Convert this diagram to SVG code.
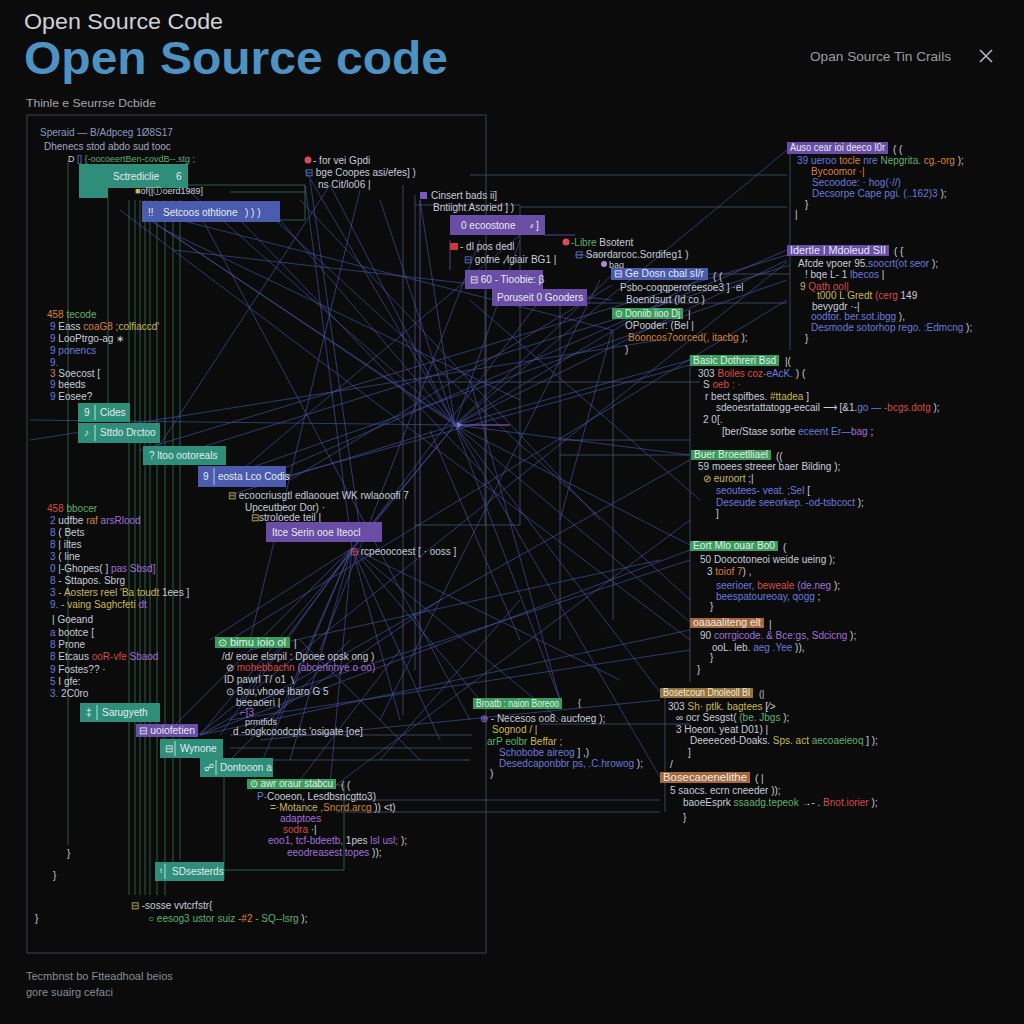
<svg xmlns="http://www.w3.org/2000/svg" width="1024" height="1024" viewBox="0 0 1024 1024">
<defs>
<style>
text{font-family:"Liberation Sans",Arial,sans-serif}
.c{font-size:10px;fill:#a8aab8}
.s{font-size:9px}
.xs{font-size:7.5px}
.g{fill:#a8aab8}.b{fill:#6a7ade}.gr{fill:#5fb070}.o{fill:#d8823a}.r{fill:#d84a4a}.p{fill:#a070d8}.y{fill:#c8b85a}.w{fill:#c8ccd8}
.bt{fill:#e4ecf0;font-size:10px}
.teal{fill:#2f8e7a}.blue{fill:#4b5cae}.purp{fill:#6a4ea6}.grn{fill:#3a9c5a}.org{fill:#a8683a}.olv{fill:#9a7434}
.ln{stroke:#4656a6;stroke-width:0.8;fill:none;opacity:0.8}
.lt{stroke:#3c8a60;stroke-width:0.8;fill:none;opacity:0.8}
.lg{stroke:#3f4a66;stroke-width:0.9;fill:none}
.lp{stroke:#5a4a96;stroke-width:0.9;fill:none}
</style>
<marker id="ah" viewBox="0 0 6 6" refX="1" refY="3" markerWidth="6" markerHeight="6" orient="auto"><path d="M6,0 L0,3 L6,6 z" fill="#8a70d0"/></marker>
</defs>
<rect width="1024" height="1024" fill="#0b0b0c"/>

<!-- header -->
<g id="header">
<text x="24" y="29" font-size="22" fill="#cfd2d6" font-family="Open Sans, Liberation Sans, sans-serif" textLength="199" lengthAdjust="spacingAndGlyphs">Open Source Code</text>
<text x="24" y="74" font-size="46" font-weight="600" fill="#4d92c2" font-family="Open Sans, Liberation Sans, sans-serif" textLength="424" lengthAdjust="spacingAndGlyphs">Open Source code</text>
<text x="810" y="61" font-size="13" fill="#9a9ca2" textLength="141" lengthAdjust="spacingAndGlyphs">Opan Source Tin Crails</text>
<path d="M980 50 L992 62 M992 50 L980 62" stroke="#b8bac0" stroke-width="1.5"/>
<text x="26" y="107" font-size="11" fill="#a4a6ac" textLength="130" lengthAdjust="spacingAndGlyphs">Thinle e Seurrse Dcbide</text>
<text x="26" y="980" font-size="11" fill="#8a8c92">Tecmbnst bo Ftteadhoal beios</text>
<text x="26" y="996" font-size="11" fill="#8a8c92">gore suairg cefaci</text>
</g>

<!-- connectors -->
<g id="connectors">
<rect x="27" y="115" width="459" height="838" fill="none" stroke="#3a4750" stroke-width="1"/>
<path class="lt" d="M68 160 V845 M129 200 V895 M135 200 V895 M140 200 V895 M145 200 V895 M150 200 V895 M157 200 V895 M165 200 V895 M173 200 V870 M180 200 V860 M108 198 V420 M224 760 V880"/>
<path class="lt" d="M188 185 H305 V220 M230 192 H305 M280 220 H305 M336 785 H344 V870 H224"/>
<path class="lg" d="M403 185 V715 M415 195 V670 M415 205 H520 V525 H415 M485 290 V525 M560 300 V640 M613 330 V620"/>
<path class="lg" d="M470 175 H787 M520 207 H787 M587 303 H787 M790 142 V350 M690 355 V682 M665 688 V812 M420 382 H700 M560 440 H690 M560 455 H690"/>
<path class="lg" d="M230 735 H472 M230 748 H472 M223 760 H470 M336 800 H660 M336 812 H660 M540 724 H690 M575 255 H612 M708 274 H790"/>
<path class="lp" d="M420 200 V690 M450 240 V270 M545 235 H575"/>
<path class="ln" d="M455 425 L305 170 M455 425 L330 185 M455 425 L420 200 M455 425 L520 240 M455 425 L612 275 M455 425 L708 274 M455 425 L787 260 M455 425 L787 150 M455 425 L690 360 M455 425 L690 455 M455 425 L690 545 M455 425 L690 622 M455 425 L660 692 M455 425 L660 777 M455 425 L560 700 M455 425 L352 548 M455 425 L230 495 M455 425 L280 220 M455 425 L188 190 M455 425 L143 215 M455 425 L200 735 M455 425 L30 420 M455 425 L380 200"/>
<path class="ln" d="M352 548 L270 735 M352 548 L290 760 M352 548 L220 735 M352 548 L250 790 M352 548 L330 785 M352 548 L400 720 M352 548 L480 700 M352 548 L560 720 M352 548 L620 680 M352 548 L305 185 M352 548 L160 740 M352 548 L210 640 M352 548 L440 740"/>
<path class="ln" d="M120 210 L690 640 M160 215 L612 330 M200 215 L470 720 M270 215 L690 600 M160 460 L790 265 M230 475 L787 280 M280 478 L690 365 M290 480 L612 285 M198 735 L787 262 M200 735 L690 460 M200 735 L690 550 M200 735 L690 630 M336 785 L690 520 M230 640 L787 300 M30 440 L660 340 M240 220 L480 470 M300 200 L600 520 M310 180 L360 530 M360 190 L250 640 M480 240 L320 650 M540 300 L240 700 M600 280 L380 720 M330 185 L150 460 M520 235 L230 480 M470 300 L700 500 M250 650 L660 560 M260 700 L690 560 M230 720 L690 650 M260 740 L660 700 M300 640 L420 760 M350 640 L230 760 M400 650 L300 780 M440 600 L250 730 M520 600 L380 760 M430 430 L520 640 M470 380 L560 700 M560 520 L612 330"/>
<path class="ln" stroke="#3b7f88" d="M150 220 L450 420 M165 230 L520 400 M173 250 L612 300 M140 450 L787 255 M280 470 L787 250"/>
<path d="M510 425 L462 425" stroke="#8a70d0" stroke-width="1" marker-end="url(#ah)"/>
</g>

<!-- left panel -->
<g id="left-header">
<text x="40" y="136" class="c" style="fill:#8b98c0">Speraid — B/Adpceg 1Ø8S17</text>
<text x="44" y="150" class="c" style="fill:#a4a8c0">Dhenecs  stod  abdo   sud tooc</text>
<text x="68" y="162" class="c s"><tspan class="w">D</tspan><tspan class="b"> [] </tspan><tspan class="gr">{-oocoeertBen-covdB--.stg ;</tspan></text>
</g>
<g id="box-sctrediclie">
<rect x="79" y="164" width="29" height="34" class="teal"/>
<rect x="108" y="164" width="80" height="24" class="teal"/>
<text x="113" y="180" class="bt">Sctrediclie</text>
<text x="176" y="180" class="bt">6</text>
</g>
<text x="135" y="194" class="c s"><tspan class="y">■</tspan><tspan class="w">of{[Ⓘoerd1989]</tspan></text>
<g id="box-setcoos">
<rect x="142" y="201" width="138" height="21" class="blue"/>
<text x="148" y="216" class="bt">!!</text>
<text x="163" y="216" class="bt">Setcoos othtione</text>
<text x="245" y="216" class="bt">) ) )</text>
</g>

<g id="left-code-1">
<text x="47" y="318" class="c"><tspan class="o">458</tspan><tspan class="gr"> tecode</tspan></text>
<text x="50" y="330" class="c"><tspan class="b">9</tspan><tspan class="w">   Eass </tspan><tspan class="o">coaG8 </tspan><tspan class="y">;colfiaccd'</tspan></text>
<text x="50" y="342" class="c"><tspan class="b">9</tspan><tspan class="w">   LooPtrgo-ag ∗</tspan></text>
<text x="50" y="354" class="c"><tspan class="b">9</tspan><tspan class="b">   ponencs</tspan></text>
<text x="50" y="366" class="c b">9.</text>
<text x="50" y="377" class="c"><tspan class="o">3</tspan><tspan class="w">  Soecost [</tspan></text>
<text x="50" y="388" class="c"><tspan class="b">9</tspan><tspan class="w">   beeds</tspan></text>
<text x="50" y="400" class="c"><tspan class="b">9</tspan><tspan class="w">   Eosee?</tspan></text>
</g>
<g id="box-cides"><rect x="78" y="403" width="52" height="19" class="teal"/><text x="84" y="416" class="bt">9</text><line x1="95" y1="405" x2="95" y2="420" stroke="#cfe" stroke-width="0.8"/><text x="100" y="416" class="bt">Cides</text></g>
<g id="box-sttdo"><rect x="78" y="423" width="82" height="20" class="teal"/><text x="84" y="436" class="bt">♪</text><line x1="95" y1="425" x2="95" y2="441" stroke="#cfe" stroke-width="0.8"/><text x="100" y="436" class="bt">Sttdo Drctoo</text></g>
<g id="box-ltoo"><rect x="143" y="446" width="83" height="19" class="teal"/><text x="149" y="459" class="bt">? ltoo ootoreals</text></g>
<g id="box-eosta"><rect x="198" y="466" width="88" height="21" class="blue"/><text x="203" y="480" class="bt">9</text><line x1="214" y1="468" x2="214" y2="485" stroke="#dde" stroke-width="0.8"/><text x="218" y="480" class="bt">eosta Lco Codis</text></g>

<g id="left-code-2">
<text x="47" y="512" class="c"><tspan class="r">458</tspan><tspan class="gr"> bbocer</tspan></text>
<text x="50" y="524" class="c"><tspan class="b">2</tspan><tspan class="w">   udfbe </tspan><tspan class="o">raf </tspan><tspan class="p">arsRlood</tspan></text>
<text x="50" y="536" class="c"><tspan class="b">8</tspan><tspan class="w">   ( Bets</tspan></text>
<text x="50" y="548" class="c"><tspan class="b">8</tspan><tspan class="w">   | iltes</tspan></text>
<text x="50" y="560" class="c"><tspan class="b">3</tspan><tspan class="w">   ( line</tspan></text>
<text x="50" y="572" class="c"><tspan class="b">0</tspan><tspan class="w">   |-Ghopes( ] </tspan><tspan class="p">pas Sbsd]</tspan></text>
<text x="50" y="584" class="c"><tspan class="b">8</tspan><tspan class="w">   - Sttapos. Sbrg</tspan></text>
<text x="50" y="596" class="c"><tspan class="b">3</tspan><tspan class="y">   - Aosters reel  'Ba toudt  </tspan><tspan class="w">1ees ]</tspan></text>
<text x="50" y="608" class="c"><tspan class="b">9.</tspan><tspan class="y">  - vaing Saghcfeti </tspan><tspan class="p">dt</tspan></text>
<text x="52" y="623" class="c w">|  Goeand</text>
<text x="50" y="636" class="c"><tspan class="b">a</tspan><tspan class="w">   bootce [</tspan></text>
<text x="50" y="648" class="c"><tspan class="b">8</tspan><tspan class="w">   Prone</tspan></text>
<text x="50" y="660" class="c"><tspan class="b">8</tspan><tspan class="w">   Etcaus </tspan><tspan class="r">ooR-vfe </tspan><tspan class="p">Sbaod</tspan></text>
<text x="50" y="673" class="c"><tspan class="b">9</tspan><tspan class="w">   Fostes?? ·</tspan></text>
<text x="50" y="685" class="c"><tspan class="b">5</tspan><tspan class="w">   I gfe:</tspan></text>
<text x="50" y="697" class="c"><tspan class="b">3.</tspan><tspan class="w">  2C0ro</tspan></text>
</g>
<g id="box-sarugyeth"><rect x="80" y="703" width="80" height="19" class="teal"/><text x="86" y="716" class="bt">‡</text><line x1="97" y1="705" x2="97" y2="720" stroke="#cfe" stroke-width="0.8"/><text x="102" y="716" class="bt">Sarugyeth</text></g>
<g id="box-uoiofetien"><rect x="136" y="724" width="62" height="13" class="purp"/><text x="139" y="734" class="bt s" textLength="56" lengthAdjust="spacingAndGlyphs">⊟ uoiofetien</text></g>
<g id="box-wynone"><rect x="160" y="739" width="63" height="19" class="teal"/><text x="165" y="752" class="bt">⊟</text><line x1="175" y1="741" x2="175" y2="756" stroke="#cfe" stroke-width="0.8"/><text x="180" y="752" class="bt">Wynone</text></g>
<g id="box-dontooon"><rect x="200" y="758" width="73" height="19" class="teal"/><text x="204" y="771" class="bt">☍</text><line x1="216" y1="760" x2="216" y2="775" stroke="#cfe" stroke-width="0.8"/><text x="220" y="771" class="bt">Dontooon a</text></g>
<g id="box-awr"><rect x="247" y="779" width="89" height="10" class="grn"/><text x="250" y="787" class="bt s" textLength="83" lengthAdjust="spacingAndGlyphs">⊙ awr oraur stabcu</text><text x="341" y="789" class="c w">( (</text></g>
<g id="left-code-3">
<text x="257" y="800" class="c"><tspan class="b">P-</tspan><tspan class="w">Cooeon, Lesdbsncgtto3)</tspan></text>
<text x="270" y="811" class="c"><tspan class="y">=·Motance </tspan><tspan class="o">,Sncrd.arcg </tspan><tspan class="w">)) &lt;t)</tspan></text>
<text x="280" y="822" class="c p">adaptoes</text>
<text x="283" y="833" class="c"><tspan class="r">sodra</tspan><tspan class="w">   ·|</tspan></text>
<text x="268" y="844" class="c"><tspan class="p">eoo1, tcf-bdeetb, </tspan><tspan class="w">1pes  </tspan><tspan class="p">lsl usl; </tspan><tspan class="w">);</tspan></text>
<text x="287" y="856" class="c"><tspan class="p">eeodreasest  topes </tspan><tspan class="w">));</tspan></text>
<text x="67" y="857" class="c w">}</text>
<text x="53" y="879" class="c w">}</text>
<text x="35" y="922" class="c w">}</text>
</g>
<g id="box-sdsesterds"><rect x="155" y="862" width="69" height="19" class="teal"/><text x="160" y="875" class="bt">ᵗ</text><line x1="165" y1="864" x2="165" y2="879" stroke="#cfe" stroke-width="0.8"/><text x="172" y="875" class="bt">SDsesterds</text></g>
<g id="left-code-4">
<text x="131" y="909" class="c"><tspan class="y">⊟</tspan><tspan class="w"> -sosse vvtcrfstr{</tspan></text>
<text x="148" y="922" class="c"><tspan class="gr">○  eesog3 ustor suiz </tspan><tspan class="o">-#2 </tspan><tspan class="gr">- SQ--lsrg </tspan><tspan class="w">);</tspan></text>
</g>

<!-- middle -->
<g id="mid-top-1">
<circle cx="308" cy="160" r="3.5" fill="#d84a5a"/>
<text x="313" y="164" class="c w">- for vei Gpdi</text>
<text x="305" y="176" class="c"><tspan class="b">⊟</tspan><tspan class="w">  bge Coopes asi/efes] )</tspan></text>
<text x="318" y="188" class="c w">ns  Cit/lo06 |</text>
</g>
<g id="mid-top-2">
<rect x="420" y="192" width="7" height="7" fill="#7a5ac0"/>
<text x="431" y="199" class="c w">Cinsert bads ii]</text>
<text x="433" y="211" class="c w">Bntiight Asoried ] )</text>
</g>
<g id="box-ecoostone"><rect x="450" y="215" width="95" height="20" class="purp"/><text x="461" y="229" class="bt">0 ecoostone</text><text x="530" y="229" class="bt">⸗ ]</text></g>
<g id="mid-top-3">
<rect x="450" y="243" width="8" height="7" fill="#c83a3a"/>
<text x="460" y="250" class="c w">- dl pos dedl</text>
<text x="464" y="263" class="c"><tspan class="b">⊟ </tspan><tspan class="w">gofne ,∕lgiair BG1 |</tspan></text>
</g>
<g id="box-tioobie"><rect x="465" y="270" width="78" height="19" class="purp"/><text x="470" y="283" class="bt">⊟ 60 - Tioobie: β</text></g>
<g id="box-poruseit"><rect x="492" y="289" width="95" height="17" class="purp"/><text x="497" y="301" class="bt">Poruseit  0 Gooders</text></g>
<g id="mid-top-4">
<circle cx="566" cy="242" r="3.5" fill="#d84a5a"/>
<text x="571" y="246" class="c"><tspan class="gr">-Libre </tspan><tspan class="w">Bsotent</tspan></text>
<text x="575" y="258" class="c"><tspan class="b">⊟  </tspan><tspan class="w">Saordarcoc.Sordifeg1 )</tspan></text>
<circle cx="604" cy="264" r="3" fill="#a88ad8"/>
<text x="609" y="268" class="c s w">bag</text>
</g>
<g id="box-gedosn"><rect x="611" y="268" width="97" height="12" class="blue"/><text x="614" y="277" class="bt s" textLength="90" lengthAdjust="spacingAndGlyphs">⊟ Ge Dosn cbal sI/r</text><text x="713" y="280" class="c w">( (</text></g>
<text x="620" y="291" class="c w">Psbo-coqqperoreesoe3 ]  ·el</text>
<text x="626" y="303" class="c w">Boendsurt  (ld co )</text>
<g id="box-doniib"><rect x="612" y="308" width="71" height="11" class="grn"/><text x="615" y="317" class="bt s" textLength="65" lengthAdjust="spacingAndGlyphs">⊙ Doniib iioo  Dj</text><text x="688" y="318" class="c w">|</text></g>
<text x="625" y="329" class="c w">OPooder: (Bel |</text>
<text x="628" y="341" class="c"><tspan class="o">Booncos7oorced(, itacbg </tspan><tspan class="w">);</tspan></text>
<text x="625" y="353" class="c w">)</text>

<g id="mid-low-1">
<text x="228" y="499" class="c"><tspan class="y">⊟ </tspan><tspan class="w">ecoocriusgtl edlaoouet WK  rwlaooofi 7</tspan></text>
<text x="245" y="511" class="c w">Upceutbeor Dor) ·</text>
<text x="251" y="521" class="c"><tspan class="y">⊟</tspan><tspan class="w">stroloede teil |</tspan></text>
</g>
<g id="box-serin"><rect x="266" y="522" width="116" height="20" class="purp"/><text x="272" y="536" class="bt">Itce    Serin ooe   Iteocl</text></g>
<text x="350" y="555" class="c"><tspan class="r">⊟</tspan><tspan class="w"> rcpeoocoest  [ · ooss ]</tspan></text>

<g id="box-bimu"><rect x="215" y="637" width="75" height="11" class="grn"/><text x="218" y="646" class="bt s" textLength="68" lengthAdjust="spacingAndGlyphs">⊙ bimu ioio  ol</text><text x="294" y="647" class="c w">|</text></g>
<g id="mid-low-2">
<text x="222" y="660" class="c w">/d/ eoue elsrpil : Dpoee opsk ong )</text>
<text x="226" y="671" class="c"><tspan class="w">⊘  </tspan><tspan class="r">mohebbachn </tspan><tspan class="p">(abcerlnhye o oo)</tspan></text>
<text x="224" y="683" class="c w">ID pawrl T/ o1 ∖</text>
<text x="226" y="695" class="c w">⊙ Bou,vhooe lbaro G 5</text>
<text x="236" y="706" class="c w">beeaoeri |</text>
<text x="240" y="716" class="c p">⌐[3</text>
<text x="245" y="725" class="c s w">prmtfids</text>
<text x="233" y="735" class="c w">d  -oogkcoodcpts  'osigate [oe]</text>
</g>

<g id="box-broatb"><rect x="473" y="698" width="89" height="11" class="grn"/><text x="476" y="707" class="bt xs" textLength="83" lengthAdjust="spacingAndGlyphs">Broatb : naion Boreoo</text><text x="578" y="706" class="c s w">{</text></g>
<g id="mid-low-3">
<text x="480" y="722" class="c"><tspan class="p">⊕ </tspan><tspan class="w">- Necesos oo8. aucfoeg );</tspan></text>
<text x="492" y="733" class="c y">Sognod / |</text>
<text x="487" y="745" class="c"><tspan class="gr">arP eolbr </tspan><tspan class="y">Beffar ;</tspan></text>
<text x="499" y="756" class="c"><tspan class="b">Schobobe aireog </tspan><tspan class="w">] ,)</tspan></text>
<text x="499" y="767" class="c"><tspan class="b">Desedcaponbbr ps, .C.hrowog </tspan><tspan class="w">);</tspan></text>
<text x="490" y="777" class="c w">)</text>
</g>

<!-- right column -->
<g id="r1">
<rect x="787" y="142" width="101" height="12" class="purp"/><text x="790" y="151" class="bt s" textLength="95" lengthAdjust="spacingAndGlyphs">Auso cear ioi deeco I0r</text><text x="893" y="153" class="c w">( (</text>
<text x="797" y="164" class="c"><tspan class="b">39 </tspan><tspan class="b">ueroo </tspan><tspan class="o">tocle </tspan><tspan class="b">nre </tspan><tspan class="gr">Nepgrita. </tspan><tspan class="o">cg.-org </tspan><tspan class="w">);</tspan></text>
<text x="811" y="175" class="c o">Bycoomor  ·|</text>
<text x="812" y="186" class="c b">Secoodoe: · hog(·//)</text>
<text x="812" y="197" class="c"><tspan class="b">Decsorpe Cape pgi. (..162)3 </tspan><tspan class="w">);</tspan></text>
<text x="805" y="208" class="c w">}</text>
<text x="795" y="218" class="c w">|</text>
</g>
<g id="r2">
<rect x="787" y="245" width="102" height="11" class="purp"/><text x="790" y="254" class="bt s" textLength="96" lengthAdjust="spacingAndGlyphs">Idertle l Mdoleud   SII</text><text x="894" y="255" class="c w">( {</text>
<text x="798" y="267" class="c"><tspan class="w">Afcde  vpoer 95.</tspan><tspan class="b">soocrt(ot seor </tspan><tspan class="w">);</tspan></text>
<text x="805" y="278" class="c"><tspan class="w">! bqe L- 1 </tspan><tspan class="b">lbecos </tspan><tspan class="w">|</tspan></text>
<text x="800" y="290" class="c"><tspan class="y">9 </tspan><tspan class="r">Qath ool|</tspan></text>
<text x="817" y="299" class="c"><tspan class="y">t000  L Gredt </tspan><tspan class="r">(cerg </tspan><tspan class="w">149</tspan></text>
<text x="812" y="310" class="c w">bevygdr ·-|</text>
<text x="811" y="320" class="c"><tspan class="b">oodtor. ber.sot.ibgg </tspan><tspan class="w">),</tspan></text>
<text x="811" y="331" class="c"><tspan class="b">Desmode  sotorhop rego. :Edmcng </tspan><tspan class="w">);</tspan></text>
<text x="805" y="342" class="c w">}</text>
</g>
<g id="r3">
<rect x="690" y="355" width="89" height="11" class="grn"/><text x="693" y="364" class="bt s" textLength="83" lengthAdjust="spacingAndGlyphs">Basic Dothreri   Bsd</text><text x="785" y="365" class="c w">|(</text>
<text x="698" y="377" class="c"><tspan class="w">303 </tspan><tspan class="r">Boiles coz-</tspan><tspan class="b">eAcK. </tspan><tspan class="w">) (</tspan></text>
<text x="703" y="388" class="c"><tspan class="w">S  </tspan><tspan class="r">oeb : ·</tspan></text>
<text x="705" y="400" class="c"><tspan class="w">r  bect  spifbes. </tspan><tspan class="y">#ttadea </tspan><tspan class="w">]</tspan></text>
<text x="716" y="411" class="c"><tspan class="w">sdeoesrtattatogg-eecail ⟶ [&amp;1.</tspan><tspan class="b">go — </tspan><tspan class="r">-bcgs.dotg </tspan><tspan class="w">);</tspan></text>
<text x="703" y="423" class="c w">2 0[.</text>
<text x="722" y="435" class="c"><tspan class="w">[ber/Stase  sorbe  </tspan><tspan class="b">eceent  Er—</tspan><tspan class="p">bag </tspan><tspan class="w">;</tspan></text>
</g>
<g id="r4">
<rect x="691" y="450" width="80" height="10" class="grn"/><text x="694" y="458" class="bt s" textLength="74" lengthAdjust="spacingAndGlyphs">Buer Broeetlliael</text><text x="776" y="460" class="c w">((</text>
<text x="698" y="470" class="c w">59 moees streeer baer Bilding );</text>
<text x="703" y="482" class="c"><tspan class="y">⊘ euroort </tspan><tspan class="w">;|</tspan></text>
<text x="716" y="494" class="c"><tspan class="b">seoutees- veat. ;Sel </tspan><tspan class="w">[</tspan></text>
<text x="716" y="506" class="c"><tspan class="b">Deseude seeorkep. -od-tsbcoct </tspan><tspan class="w">);</tspan></text>
<text x="716" y="517" class="c w">]</text>
</g>
<g id="r5">
<rect x="690" y="541" width="88" height="10" class="grn"/><text x="693" y="549" class="bt s" textLength="82" lengthAdjust="spacingAndGlyphs">Eort Mlo ouar   Bo0</text><text x="783" y="551" class="c w">(</text>
<text x="700" y="563" class="c w">50 Doocotoneoi  weide ueing );</text>
<text x="707" y="575" class="c"><tspan class="w">3 </tspan><tspan class="o">toiof 7</tspan><tspan class="w">) ,</tspan></text>
<text x="716" y="589" class="c"><tspan class="b">seerioer, </tspan><tspan class="r">beweale </tspan><tspan class="p">(de.neg </tspan><tspan class="w">);</tspan></text>
<text x="716" y="600" class="c"><tspan class="b">beespatoureoay, qogg </tspan><tspan class="w">;</tspan></text>
<text x="710" y="610" class="c w">}</text>
</g>
<g id="r6">
<rect x="690" y="618" width="74" height="10" class="org"/><text x="693" y="626" class="bt s" textLength="68" lengthAdjust="spacingAndGlyphs">oaaaaliteng elt</text><text x="769" y="628" class="c w">|</text>
<text x="700" y="639" class="c"><tspan class="w">90 </tspan><tspan class="p">corrgicode. &amp; Bce:gs, Sdcicng </tspan><tspan class="w">);</tspan></text>
<text x="712" y="651" class="c"><tspan class="w">ooL. leb. </tspan><tspan class="b">aeg .Yee </tspan><tspan class="w">)),</tspan></text>
<text x="710" y="661" class="c w">}</text>
<text x="697" y="673" class="c w">}</text>
</g>
<g id="r7">
<rect x="660" y="688" width="93" height="10" class="olv"/><text x="663" y="696" class="bt xs" textLength="87" lengthAdjust="spacingAndGlyphs">Bosetcoun Dnoleoll Bl</text><text x="759" y="697" class="c s w">(|</text>
<text x="668" y="710" class="c"><tspan class="w">303 </tspan><tspan class="y">Sh· ptlk. bagtees </tspan><tspan class="w">[⁄&gt;</tspan></text>
<text x="676" y="721" class="c"><tspan class="w">∞ ocr Sesgst(  </tspan><tspan class="gr">(be. Jbgs </tspan><tspan class="w">);</tspan></text>
<text x="676" y="733" class="c w">3 Hoeon. yeat  D01) |</text>
<text x="690" y="744" class="c"><tspan class="w">Deeeeced-Doaks. </tspan><tspan class="y">Sps. act </tspan><tspan class="gr">aecoaeieoq </tspan><tspan class="w">] );</tspan></text>
<text x="688" y="756" class="c w">]</text>
<text x="670" y="768" class="c w">/</text>
</g>
<g id="r8">
<rect x="660" y="772" width="90" height="11" class="org"/><text x="663" y="781" class="bt s" textLength="84" lengthAdjust="spacingAndGlyphs">Bosecaoenelithe</text><text x="755" y="782" class="c w">( |</text>
<text x="670" y="794" class="c w">5 saocs. ecrn  cneeder ));</text>
<text x="683" y="806" class="c"><tspan class="w">baoeEsprk  </tspan><tspan class="gr">ssaadg.tepeok  </tspan><tspan class="w">→- . </tspan><tspan class="r">Bnot.iorier </tspan><tspan class="w">);</tspan></text>
<text x="683" y="821" class="c w">}</text>
</g>
</svg>
